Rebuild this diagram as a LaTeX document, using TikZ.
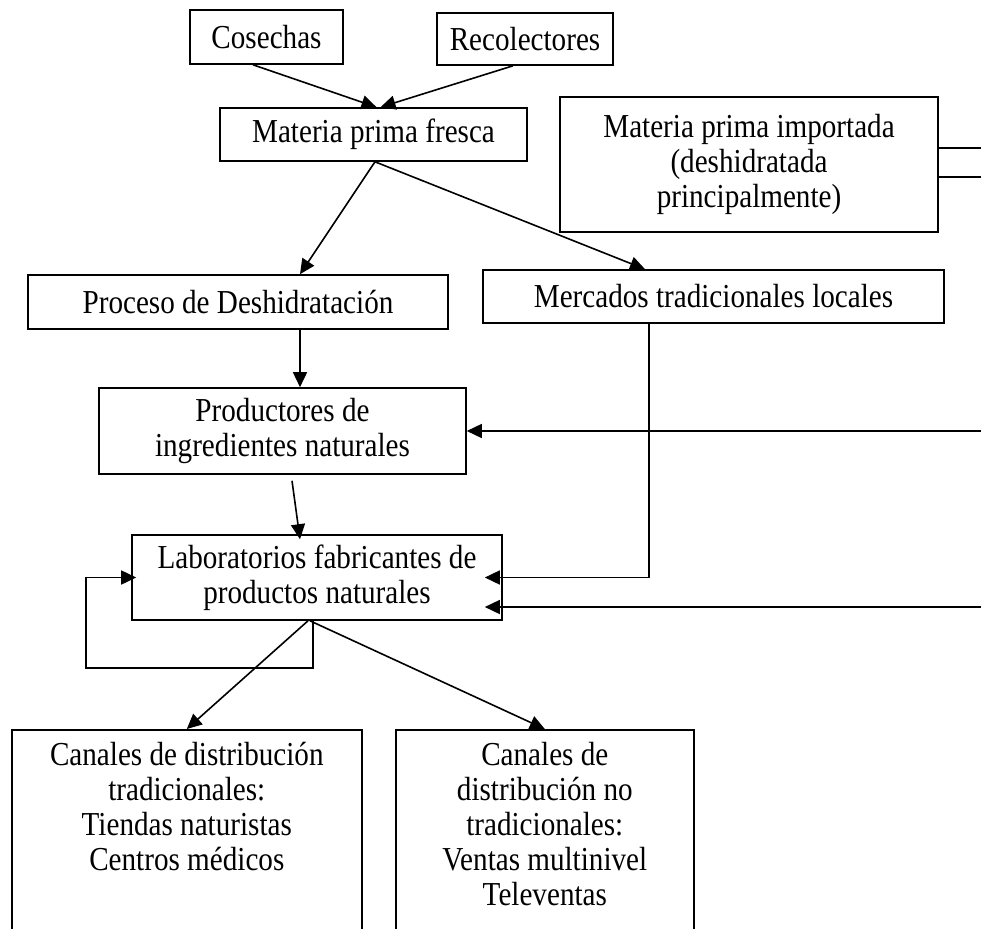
\documentclass[tikz,border=0pt]{standalone}
\usepackage{fontspec}
\setmainfont{Liberation Serif}[FakeStretch=0.87]
\usetikzlibrary{arrows.meta, positioning}
\tikzset{
  flowbox/.style={draw, line width=1.6pt, rectangle, inner sep=0pt, align=center,
                  font=\fontsize{33.5}{35}\selectfont},
  canalbox/.style={draw, line width=1.6pt, rectangle, inner xsep=0pt, inner ysep=12pt,
                   align=center, anchor=north west, font=\fontsize{33.5}{35}\selectfont},
  arrowstd/.style={-{Triangle[length=15pt, width=14pt]}, line width=1.6pt},
  linestd/.style={line width=1.6pt}
}
\begin{document}
\begin{tikzpicture}[x=1pt, y=-1pt]
  \useasboundingbox (0,0) rectangle (981,928);

  \node[flowbox, minimum width=153pt, minimum height=54pt] (cosechas)     at (266.5,37)  {Cosechas};
  \node[flowbox, minimum width=176pt, minimum height=52pt] (recolectores) at (525,39)    {Recolectores};
  \node[flowbox, minimum width=307pt, minimum height=53pt] (fresca)       at (373.5,134.5) {Materia prima fresca};
  \node[flowbox, minimum width=378pt, minimum height=135pt] (importada)   at (749,164.5) {Materia prima importada\\(deshidratada\\principalmente)};
  \node[flowbox, minimum width=420pt, minimum height=54pt] (proceso)      at (238,302)   {Proceso de Deshidratación};
  \node[flowbox, minimum width=461pt, minimum height=53pt] (mercados)     at (713.5,296.5) {Mercados tradicionales locales};
  \node[flowbox, minimum width=367pt, minimum height=86pt] (productores)  at (282.5,431) {Productores de\\ingredientes naturales};
  \node[flowbox, minimum width=370pt, minimum height=85pt] (lab)          at (317,577.5) {Laboratorios fabricantes de\\productos naturales};
  \node[canalbox, minimum width=350pt] (trad)   at (11,729)  {Canales de distribución\\tradicionales:\\Tiendas naturistas\\Centros médicos\\~\\~\\~};
  \node[canalbox, minimum width=298pt] (notrad) at (395,729) {Canales de\\distribución no\\tradicionales:\\Ventas multinivel\\Televentas\\~\\~};

  \coordinate (outA) at (981,148);
  \coordinate (outB) at (981,177);
  \coordinate (inA)  at (981,431);
  \coordinate (inB)  at (981,607);
  \coordinate (loop) at (86,668);

  \draw[arrowstd] ([xshift=-13.5pt]cosechas.south)   -- ([xshift=3pt]fresca.north);
  \draw[arrowstd] ([xshift=-12pt]recolectores.south) -- ([xshift=7pt]fresca.north);
  \draw[arrowstd] ([xshift=1.5pt]fresca.south) -- ([xshift=62pt]proceso.north);
  \draw[arrowstd] ([xshift=1.5pt]fresca.south) -- ([xshift=-68.5pt]mercados.north);
  \draw[linestd]  (importada.east |- outA) -- (outA);
  \draw[linestd]  (importada.east |- outB) -- (outB);
  \draw[arrowstd] ([xshift=62pt]proceso.south) -- ([xshift=17.5pt]productores.north);
  \draw[arrowstd] (inA) -- (productores.east);
  \draw[arrowstd] ([xshift=9.5pt, yshift=-6pt]productores.south) -- ([xshift=-17pt, yshift=-5pt]lab.north);
  \draw[arrowstd] ([xshift=-64.5pt]mercados.south) |- ([xshift=-18pt]lab.east);
  \draw[arrowstd] (inB) -- ([xshift=-18pt]lab.east |- inB);
  \draw[arrowstd] ([xshift=-4pt]lab.south) |- (loop) |- ([xshift=5pt]lab.west);
  \draw[arrowstd] ([xshift=-9pt]lab.south) -- (trad.north);
  \draw[arrowstd] ([xshift=-7pt]lab.south) -- (notrad.north);
\end{tikzpicture}
\end{document}
